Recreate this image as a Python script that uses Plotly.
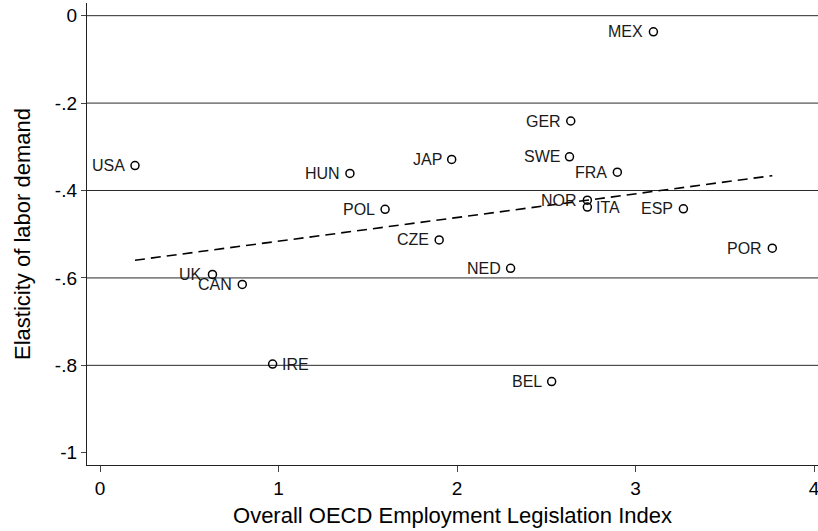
import numpy as np
import plotly.graph_objects as go

# Data
countries = ["USA", "HUN", "JAP", "GER", "SWE", "FRA", "MEX", "POL", "CZE",
             "NOR", "ITA", "ESP", "POR", "UK", "CAN", "IRE", "NED", "BEL"]
epl_index = [0.196, 1.40, 1.97, 2.637, 2.63, 2.898, 3.10, 1.597, 1.90,
             2.73, 2.73, 3.268, 3.766, 0.63, 0.797, 0.967, 2.30, 2.53]
elasticity = [-0.343, -0.361, -0.329, -0.241, -0.323, -0.358, -0.037, -0.443, -0.513,
              -0.422, -0.438, -0.442, -0.532, -0.592, -0.615, -0.797, -0.578, -0.837]
label_side = ["left"] * 18
label_side[countries.index("IRE")] = "right"
label_side[countries.index("ITA")] = "right"

y_ticks = [0, -0.2, -0.4, -0.6, -0.8, -1]
y_tick_labels = ["0", "-.2", "-.4", "-.6", "-.8", "-1"]
y_grid = [0, -0.2, -0.4, -0.6, -0.8]
x_ticks = [0, 1, 2, 3, 4]
x_tick_labels = ["0", "1", "2", "3", "4"]

FONT = "Arial, Liberation Sans, Helvetica, sans-serif"

# Linear fit
slope, intercept = np.polyfit(epl_index, elasticity, 1)
fit_x = np.array([min(epl_index), max(epl_index)])
fit_y = intercept + slope * fit_x

fig = go.Figure()

fig.add_trace(go.Scatter(
    x=fit_x, y=fit_y, mode="lines",
    line=dict(color="black", width=1.6, dash="10px,6px"),
    hoverinfo="skip", showlegend=False,
))

fig.add_trace(go.Scatter(
    x=epl_index, y=elasticity, mode="markers",
    marker=dict(symbol="circle-open", size=8, color="black", line=dict(width=1.5, color="black")),
    showlegend=False,
))

annotations = []
for name, xv, yv, side in zip(countries, epl_index, elasticity, label_side):
    annotations.append(dict(
        x=xv, y=yv, xref="x", yref="y", text=name, showarrow=False,
        xanchor="right" if side == "left" else "left", yanchor="middle",
        xshift=-8 if side == "left" else 7, yshift=0,
        font=dict(family=FONT, size=16, color="#1a1a1a"),
    ))

shapes = []
for gy in y_grid:
    shapes.append(dict(type="line", xref="paper", x0=0, x1=1, yref="y", y0=gy, y1=gy,
                       line=dict(color="#2a2a2a", width=1), layer="below"))

fig.update_layout(
    width=818, height=531,
    margin=dict(l=87, r=0, t=3, b=66),
    paper_bgcolor="white", plot_bgcolor="white",
    font=dict(family=FONT, color="black"),
    shapes=shapes,
    annotations=annotations,
    xaxis=dict(
        range=[-0.0728, 4.022],
        tickvals=x_ticks, ticktext=x_tick_labels,
        showgrid=False, zeroline=False,
        showline=True, linecolor="#222", linewidth=1.3,
        ticks="outside", ticklen=6, tickwidth=1, tickcolor="#444",
        tickfont=dict(size=19, family=FONT, color="black"),
        ticklabeloverflow="allow",
        title=dict(text="Overall OECD Employment Legislation Index",
                   font=dict(size=22, family=FONT, color="black"), standoff=9),
        automargin=False,
    ),
    yaxis=dict(
        range=[-1.028, 0.029],
        tickvals=y_ticks, ticktext=y_tick_labels,
        showgrid=False, zeroline=False,
        showline=True, linecolor="#222", linewidth=1.3,
        ticks="outside", ticklen=5, tickwidth=1, tickcolor="#444",
        tickfont=dict(size=19, family=FONT, color="black"),
        title=dict(text="Elasticity of labor demand",
                   font=dict(size=22, family=FONT, color="black"), standoff=18),
        automargin=False,
    ),
)

fig.write_html("out.html")
